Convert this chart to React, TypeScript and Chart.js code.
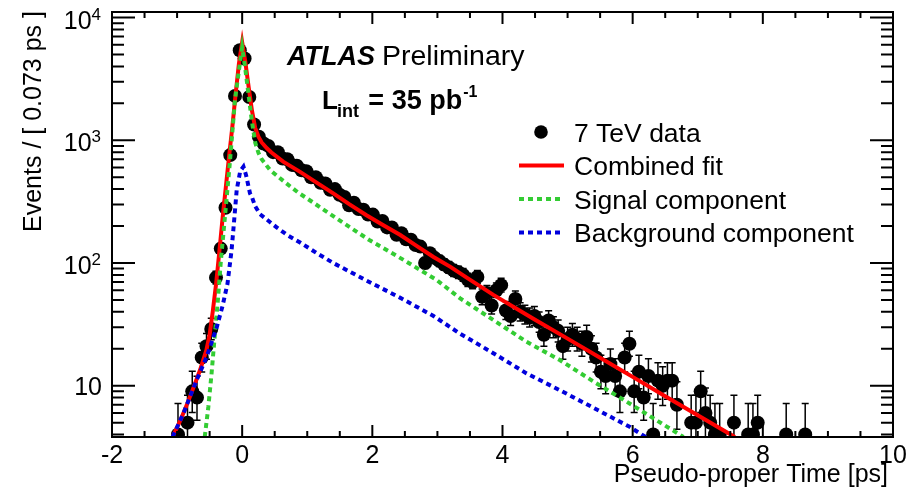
import React, { useEffect, useRef } from 'react';
import { Chart, registerables } from 'chart.js';

Chart.register(...registerables);

// ---------- data ----------
const binCenters = [
  -0.986, -0.84, -0.767, -0.694, -0.621, -0.548, -0.475, -0.402, -0.329, -0.256, -0.183, -0.11, -0.037,
  0.037, 0.11, 0.183, 0.256, 0.329, 0.402, 0.475, 0.548, 0.621, 0.694, 0.767, 0.84, 0.913, 0.986,
  1.059, 1.132, 1.205, 1.278, 1.351, 1.424, 1.497, 1.57, 1.643, 1.716, 1.789, 1.862, 1.935,
  2.008, 2.081, 2.154, 2.227, 2.3, 2.373, 2.446, 2.519, 2.592, 2.665, 2.738, 2.811, 2.884, 2.957,
  3.03, 3.103, 3.176, 3.249, 3.322, 3.395, 3.468, 3.541, 3.614, 3.687, 3.76, 3.833, 3.906, 3.979,
  4.052, 4.125, 4.198, 4.271, 4.344, 4.417, 4.49, 4.563, 4.636, 4.709, 4.782, 4.855, 4.928,
  5.001, 5.074, 5.147, 5.22, 5.293, 5.366, 5.439, 5.512, 5.585, 5.658, 5.731, 5.804, 5.877, 5.95,
  6.023, 6.096, 6.169, 6.242, 6.315, 6.388, 6.461, 6.534, 6.607, 6.68, 6.899, 6.972,
  7.045, 7.118, 7.191, 7.264, 7.337, 7.556, 7.775, 7.848, 7.921, 8.359, 8.651,
];
const eventCounts = [
  4, 5, 9, 8, 17, 21, 29, 76, 131, 282, 757, 2300, 5420,
  4640, 2250, 1345, 1067, 942, 900, 800, 800, 710, 700, 630, 620, 570, 560,
  500, 500, 450, 445, 395, 400, 360, 345, 295, 310, 275, 272, 248,
  248, 218, 220, 195, 195, 170, 175, 156, 155, 140, 136, 100, 120, 110,
  104, 97, 92, 87, 84, 80, 73, 70, 77, 53, 57, 45, 60, 66,
  41, 37, 51, 40, 38, 36, 37, 33, 26, 34, 30, 28, 21,
  24, 26, 24, 22, 25, 20, 17, 13, 12, 15, 12, 9, 17, 22,
  9, 13, 8, 12, 4, 11, 10, 11, 11, 7, 5, 5,
  9, 6, 5, 4, 4, 5, 4, 4, 5, 4, 4,
];

const fitTime = [
  -1.07, -0.95, -0.85, -0.75, -0.65, -0.55, -0.5, -0.45, -0.4, -0.35, -0.3, -0.25, -0.2, -0.15, -0.1, -0.05,
  0, 0.05, 0.1, 0.15, 0.2, 0.25, 0.3, 0.38, 0.45, 0.63, 0.89, 1.15, 1.4, 1.65, 1.91, 2.17, 2.43, 2.68,
  2.94, 3.2, 3.45, 3.86, 4.5, 5.0, 5.5, 6.0, 6.5, 7.0, 7.57,
];
const fitValues = [
  3.82, 5.2, 7.0, 9.6, 13.3, 19.5, 26, 41, 68, 125, 235, 420, 750, 1300, 2400, 4200,
  6300, 4300, 2700, 1750, 1260, 1070, 960, 860, 795, 670, 553, 450, 369, 300, 245, 203, 169, 138,
  112, 93, 76, 55, 34.5, 24.2, 16.9, 11.8, 8.2, 5.75, 3.82,
];

const signalTime = [
  -0.575, -0.52, -0.47, -0.42, -0.37, -0.33, -0.26, -0.19, -0.11, -0.05, 0, 0.05, 0.1, 0.15, 0.2, 0.25,
  0.3, 0.43, 0.68, 0.86, 1.0, 1.45, 1.96, 2.48, 2.99, 3.35, 3.86, 4.37, 4.88, 5.4, 5.91, 6.4, 6.78,
];
const signalValues = [
  3.82, 6.7, 12.6, 26, 52, 100, 253, 650, 2150, 3700, 5700, 3750, 2300, 1420, 960, 790,
  700, 571, 445, 375, 335, 231, 153, 106, 72.6, 51.5, 34.3, 22.8, 16.2, 10.8, 7.4, 5.1, 3.82,
];

const backgroundTime = [
  -1.07, -0.9, -0.7, -0.545, -0.39, -0.3, -0.225, -0.163, -0.136, -0.084, -0.03, 0.02, 0.06, 0.12, 0.15,
  0.2, 0.274, 0.43, 0.53, 0.7, 0.89, 1.15, 1.4, 1.91, 2.43, 2.94, 3.35, 3.86, 4.37, 4.88, 5.4, 5.96, 6.2,
];
const backgroundValues = [
  3.82, 6.0, 11.1, 17.2, 30, 45, 68, 127, 185, 393, 560, 610, 520, 370, 345,
  290, 250, 215, 195, 168, 147, 120, 100, 72, 52, 37, 26.5, 18.4, 12.6, 9.2, 6.6, 4.6, 3.82,
];

const xTickValues = [-2, 0, 2, 4, 6, 8, 10];
const xTickLabels = ['-2', '0', '2', '4', '6', '8', '10'];
const yTickValues = [10, 100, 1000, 10000];
const yTickBases = ['10', '10', '10', '10'];
const yTickExponents = ['', '2', '3', '4'];
const legendLabels = ['7 TeV data', 'Combined fit', 'Signal component', 'Background component'];

const X_MIN = -2;
const X_MAX = 10;
const Y_MIN = 3.82;
const Y_MAX = 11100;

const FONT = '"Liberation Sans", Arial, Helvetica, sans-serif';
const RED = '#ff0000';
const GREEN = '#33cc33';
const BLUE = '#0000dd';
const MARKER_RADIUS = 7;

// Poisson (Garwood) 68% interval, Wilson-Hilferty approximation
function poissonInterval(n: number): [number, number] {
  const hi = (n + 1) * Math.pow(1 - 1 / (9 * (n + 1)) + 1 / (3 * Math.sqrt(n + 1)), 3);
  const lo = n > 0 ? n * Math.pow(1 - 1 / (9 * n) - 1 / (3 * Math.sqrt(n)), 3) : 0;
  return [lo, hi];
}

const decorPlugin = {
  id: 'atlasDecor',
  beforeDatasetsDraw(chart: any) {
    const { ctx, chartArea: ca, scales } = chart;
    const x = scales.x;
    const y = scales.y;
    ctx.save();
    ctx.beginPath();
    ctx.rect(ca.left, ca.top, ca.right - ca.left, ca.bottom - ca.top);
    ctx.clip();
    ctx.strokeStyle = '#000';
    ctx.lineWidth = 1.5;
    binCenters.forEach((t, i) => {
      const n = eventCounts[i];
      const [lo, hi] = poissonInterval(n);
      const px = x.getPixelForValue(t);
      const pyHi = y.getPixelForValue(hi);
      const pyLo = lo > 0 ? y.getPixelForValue(lo) : ca.bottom + 20;
      ctx.beginPath();
      ctx.moveTo(px, pyLo);
      ctx.lineTo(px, pyHi);
      ctx.moveTo(px - 3.5, pyHi);
      ctx.lineTo(px + 3.5, pyHi);
      ctx.moveTo(px - 3.5, pyLo);
      ctx.lineTo(px + 3.5, pyLo);
      ctx.stroke();
    });
    ctx.restore();
  },
  afterDraw(chart: any) {
    const { ctx, chartArea: ca, scales } = chart;
    const x = scales.x;
    const y = scales.y;
    ctx.save();
    ctx.strokeStyle = '#000';
    ctx.fillStyle = '#000';

    // frame
    ctx.lineWidth = 2;
    ctx.strokeRect(ca.left, ca.top, ca.right - ca.left, ca.bottom - ca.top);

    // x ticks (bottom and top)
    ctx.lineWidth = 2;
    ctx.beginPath();
    for (let v = X_MIN; v <= X_MAX + 1e-9; v += 0.5) {
      const px = x.getPixelForValue(v);
      const major = Math.abs(v / 2 - Math.round(v / 2)) < 1e-6;
      const len = major ? 12 : 6;
      ctx.moveTo(px, ca.bottom);
      ctx.lineTo(px, ca.bottom - len);
      ctx.moveTo(px, ca.top);
      ctx.lineTo(px, ca.top + len);
    }
    // y ticks (left and right)
    for (let d = 1; d <= 10000; d *= 10) {
      for (let m = 1; m <= 9; m++) {
        const v = m * d;
        if (v < Y_MIN || v > Y_MAX) continue;
        const py = y.getPixelForValue(v);
        const len = m === 1 ? 23 : 12;
        ctx.moveTo(ca.left, py);
        ctx.lineTo(ca.left + len, py);
        ctx.moveTo(ca.right, py);
        ctx.lineTo(ca.right - len, py);
      }
    }
    ctx.stroke();

    // x tick labels
    ctx.font = `25px ${FONT}`;
    ctx.textAlign = 'center';
    ctx.textBaseline = 'alphabetic';
    xTickValues.forEach((v, i) => {
      ctx.fillText(xTickLabels[i], x.getPixelForValue(v), 463);
    });

    // y tick labels with superscripts
    const labelRight = 101;
    yTickValues.forEach((v, i) => {
      const py = y.getPixelForValue(v);
      const exp = yTickExponents[i];
      ctx.textAlign = 'right';
      if (exp) {
        ctx.font = `17px ${FONT}`;
        ctx.fillText(exp, labelRight, py + 2);
        const w = ctx.measureText(exp).width;
        ctx.font = `25px ${FONT}`;
        ctx.fillText(yTickBases[i], labelRight - w, py + 11);
      } else {
        ctx.font = `25px ${FONT}`;
        ctx.fillText(yTickBases[i], labelRight + 1, py + 9);
      }
    });

    // axis titles
    ctx.font = `25px ${FONT}`;
    ctx.textAlign = 'right';
    ctx.fillText('Pseudo-proper Time [ps]', 888, 482);
    ctx.save();
    ctx.translate(41, 11);
    ctx.rotate(-Math.PI / 2);
    ctx.textAlign = 'right';
    ctx.textBaseline = 'alphabetic';
    ctx.fillText('Events / [ 0.073 ps ]', 0, 0);
    ctx.restore();

    // ATLAS Preliminary
    ctx.textAlign = 'left';
    ctx.font = `italic bold 27px ${FONT}`;
    ctx.fillText('ATLAS', 287, 65);
    ctx.font = `28.5px ${FONT}`;
    ctx.fillText('Preliminary', 382, 65);

    // L_int = 35 pb^-1
    let cx = 322;
    ctx.font = `bold 26px ${FONT}`;
    ctx.fillText('L', cx, 109);
    cx += ctx.measureText('L').width;
    ctx.font = `bold 18px ${FONT}`;
    ctx.fillText('int', cx - 1, 117);
    cx += ctx.measureText('int').width + 1;
    ctx.font = `bold 27px ${FONT}`;
    ctx.fillText(' = 35 pb', cx, 109);
    cx += ctx.measureText(' = 35 pb').width;
    ctx.font = `bold 16px ${FONT}`;
    ctx.fillText('-1', cx + 1, 97);

    // legend
    const legendY = [132, 165.5, 199, 232.5];
    ctx.fillStyle = '#000';
    ctx.beginPath();
    ctx.arc(541, legendY[0], 6.8, 0, Math.PI * 2);
    ctx.fill();
    const styles = [
      { color: RED, dash: [] as number[] },
      { color: GREEN, dash: [5, 4] },
      { color: BLUE, dash: [5, 4] },
    ];
    styles.forEach((s, i) => {
      ctx.save();
      ctx.strokeStyle = s.color;
      ctx.lineWidth = 4;
      ctx.setLineDash(s.dash);
      ctx.beginPath();
      ctx.moveTo(519, legendY[i + 1]);
      ctx.lineTo(564, legendY[i + 1]);
      ctx.stroke();
      ctx.restore();
    });
    ctx.font = `26.5px ${FONT}`;
    ctx.textAlign = 'left';
    ctx.fillStyle = '#000';
    legendLabels.forEach((lab, i) => {
      ctx.fillText(lab, 574, legendY[i] + 9.5);
    });

    ctx.restore();
  },
};

export default function App() {
  const canvasRef = useRef<HTMLCanvasElement | null>(null);

  useEffect(() => {
    const canvas = canvasRef.current;
    if (!canvas) return;
    const toPoints = (xs: number[], ys: number[]) => xs.map((v, i) => ({ x: v, y: ys[i] }));

    const chart = new Chart(canvas, {
      type: 'scatter',
      data: {
        datasets: [
          {
            label: legendLabels[0],
            data: toPoints(binCenters, eventCounts),
            showLine: false,
            pointRadius: MARKER_RADIUS,
            pointHoverRadius: MARKER_RADIUS,
            pointBackgroundColor: '#000',
            pointBorderWidth: 0,
            borderColor: '#000',
            backgroundColor: '#000',
            order: 3,
          },
          {
            label: legendLabels[1],
            data: toPoints(fitTime, fitValues),
            showLine: true,
            borderColor: RED,
            borderWidth: 4,
            pointRadius: 0,
            tension: 0,
            fill: false,
            order: 2,
          },
          {
            label: legendLabels[2],
            data: toPoints(signalTime, signalValues),
            showLine: true,
            borderColor: GREEN,
            borderWidth: 4,
            borderDash: [5, 4],
            pointRadius: 0,
            tension: 0,
            fill: false,
            order: 1,
          },
          {
            label: legendLabels[3],
            data: toPoints(backgroundTime, backgroundValues),
            showLine: true,
            borderColor: BLUE,
            borderWidth: 4,
            borderDash: [5, 4],
            pointRadius: 0,
            tension: 0,
            fill: false,
            order: 0,
          },
        ],
      },
      options: {
        animation: false,
        responsive: false,
        maintainAspectRatio: false,
        devicePixelRatio: 1,
        layout: { padding: { left: 112, right: 15, top: 12, bottom: 55 } },
        plugins: {
          legend: { display: false },
          tooltip: { enabled: false },
        },
        events: [],
        scales: {
          x: { type: 'linear', min: X_MIN, max: X_MAX, display: false },
          y: { type: 'logarithmic', min: Y_MIN, max: Y_MAX, display: false },
        },
      },
      plugins: [decorPlugin],
    });
    return () => chart.destroy();
  }, []);

  return (
    <div style={{ position: 'fixed', left: 0, top: 0, width: 908, height: 492, background: '#fff' }}>
      <canvas ref={canvasRef} width={908} height={492} style={{ width: 908, height: 492, display: 'block' }} />
    </div>
  );
}
